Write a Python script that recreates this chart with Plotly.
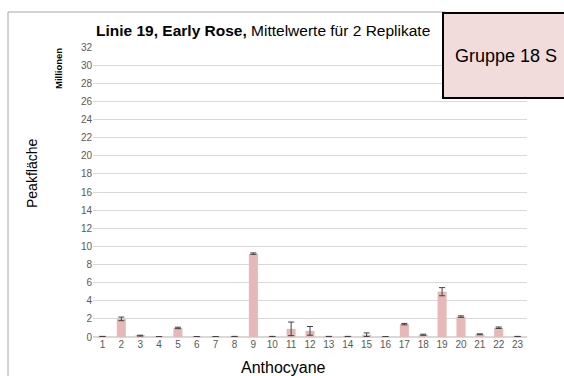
import plotly.graph_objects as go

categories = [str(i) for i in range(1, 24)]
values = [0.05, 2.0, 0.15, 0.03, 1.0, 0.03, 0.03, 0.05, 9.2, 0.05, 0.9, 0.68, 0.05, 0.05, 0.25, 0.03, 1.42, 0.25, 5.0, 2.25, 0.3, 1.02, 0.05]
errors = [0.02, 0.2, 0.05, 0.01, 0.08, 0.01, 0.01, 0.02, 0.08, 0.02, 0.75, 0.48, 0.02, 0.02, 0.2, 0.01, 0.08, 0.06, 0.45, 0.08, 0.05, 0.08, 0.02]
y_ticks = list(range(0, 33, 2))

W, H = 564, 376
L, R, T, B = 93, 37, 47, 39
pw, ph = W - L - R, H - T - B

def px(x):
    return (x - L) / pw

def py(y):
    return (H - B - y) / ph

fig = go.Figure()
fig.add_trace(go.Bar(
    x=categories, y=values,
    marker=dict(color="#e6b9b8", line=dict(width=0)),
    error_y=dict(type="data", array=errors, visible=True, color="#404040", thickness=1, width=3),
))

fig.update_layout(
    width=W, height=H,
    margin=dict(l=L, r=R, t=T, b=B, autoexpand=False),
    paper_bgcolor="white", plot_bgcolor="white",
    bargap=0.52,
    showlegend=False,
    font=dict(family="Liberation Sans, Arial", color="black"),
    xaxis=dict(
        type="category", showgrid=False, showline=False, ticks="", automargin=False,
        tickfont=dict(size=10, color="#595959"),
    ),
    yaxis=dict(
        range=[0, 32], tickvals=y_ticks, showgrid=True, gridcolor="#d9d9d9", gridwidth=1,
        zeroline=True, zerolinecolor="#d9d9d9", showline=False, ticks="", automargin=False,
        tickfont=dict(size=10, color="#595959"),
    ),
    shapes=[
        dict(type="line", xref="paper", yref="paper", x0=px(8), x1=px(8), y0=py(12), y1=py(380),
             line=dict(color="#a6a6a6", width=1)),
        dict(type="line", xref="paper", yref="paper", x0=px(8), x1=px(445), y0=py(12), y1=py(12),
             line=dict(color="#a6a6a6", width=1)),
        dict(type="rect", xref="paper", yref="paper", x0=px(443), x1=px(570), y0=py(98), y1=py(13),
             fillcolor="#f2dcdb", line=dict(color="black", width=2)),
    ],
    annotations=[
        dict(text="<b>Linie 19, Early Rose,</b> Mittelwerte für 2 Replikate", xref="paper", yref="paper",
             x=px(94), y=py(30), xanchor="left", yanchor="middle", showarrow=False,
             font=dict(size=15.5, color="black")),
        dict(text="Gruppe 18 S", xref="paper", yref="paper",
             x=px(506), y=py(56), xanchor="center", yanchor="middle", showarrow=False,
             font=dict(size=18, color="black")),
        dict(text="<b>Millionen</b>", xref="paper", yref="paper", textangle=-90,
             x=px(58), y=py(69), xanchor="center", yanchor="middle", showarrow=False,
             font=dict(size=9.5, color="black")),
        dict(text="Peakfläche", xref="paper", yref="paper", textangle=-90,
             x=px(32), y=py(174), xanchor="center", yanchor="middle", showarrow=False,
             font=dict(size=14, color="black")),
        dict(text="Anthocyane", xref="paper", yref="paper",
             x=px(283), y=py(367), xanchor="center", yanchor="middle", showarrow=False,
             font=dict(size=16, color="black")),
    ],
)

fig.write_html("out.html", config={"displayModeBar": False},
               post_script="document.body.style.margin='0';document.body.style.overflow='hidden';")
